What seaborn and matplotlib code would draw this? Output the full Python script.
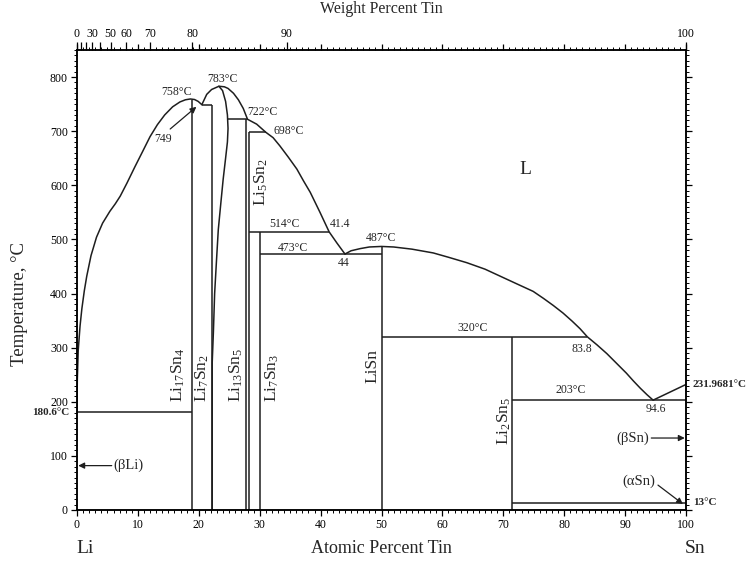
import numpy as np
import pandas as pd
import matplotlib.pyplot as plt
import seaborn as sns

sns.set_style('ticks')
plt.rcParams['font.family'] = ['Liberation Serif', 'DejaVu Serif']
plt.rcParams['mathtext.fontset'] = 'custom'
plt.rcParams['mathtext.rm'] = 'Liberation Serif'
plt.rcParams['mathtext.it'] = 'Liberation Serif:italic'

# liquidus, Li side up to the Li17Sn4 / Li7Sn2 eutectic (749 C)
liq_li_at = [0, 0.05, 0.2, 0.5, 0.8, 1.2, 1.6, 2.3, 3.2, 4.2, 5.4, 6.3, 7.1, 8.2,
             9.5, 10.8, 12.0, 13.2, 14.4, 15.7, 16.9, 17.8, 18.6, 19.3, 19.9, 20.5]
liq_li_T = [180.6, 240, 295, 340, 372, 405, 432, 470, 504, 530, 552, 566, 580, 604,
            634, 663, 690, 712, 730, 745, 754, 758, 759.5, 758.5, 755, 749]

# liquidus over Li7Sn2 down to the 473 C eutectic
liq_mid_at = [20.5, 21.3, 22.1, 23.3, 24.2, 24.8, 25.7, 26.5, 27.3, 28.0, 29.5, 31.0,
              32.2, 33.3, 34.7, 36.1, 37.2, 38.3, 39.9, 41.4, 42.7, 44.0]
liq_mid_T = [749, 768, 777, 783, 782, 779, 770, 758, 742, 722, 713, 698,
             688, 673, 652, 630, 608, 587, 550, 514, 493, 473]

# liquidus over LiSn down to the Sn-rich eutectic, then to pure Sn
liq_sn_at = [44.0, 45.0, 46.5, 48.0, 50.0, 52.0, 55.0, 58.5, 61.0, 64.0, 67.0, 69.5,
             72.0, 74.9, 76.6, 78.2, 79.8, 81.3, 82.6, 83.8, 85.4, 87.0, 88.6, 90.2,
             91.4, 92.5, 93.6, 94.6, 100]
liq_sn_T = [473, 479, 483, 486, 487, 486, 482, 475, 467, 457, 445, 432,
            419, 404, 391, 378, 364, 349, 335, 320, 305, 289, 271, 253,
            238, 225, 213, 203, 231.9681]

# Sn-rich boundary of Li7Sn2
li7sn2_at = [23.3, 23.9, 24.4, 24.7, 24.8, 24.7, 24.4, 24.0, 23.6, 23.2, 22.9, 22.6,
             22.4, 22.2, 22.2]
li7sn2_T = [783, 775, 755, 730, 705, 680, 650, 611, 565, 518, 460, 400,
            330, 272, 0]

# isotherms
iso_T = [180.6, 749, 722, 698, 514, 473, 320, 203, 13]
iso_from = [0, 20.5, 24.7, 28.2, 28.2, 30.0, 50.0, 71.4, 71.4]
iso_to = [18.9, 22.2, 28.0, 31.0, 41.4, 50.0, 83.8, 100, 100]

# compounds
comp_at = [18.9, 22.2, 27.8, 28.2, 30.0, 50.0, 71.4]
comp_top = [758, 749, 722, 698, 514, 487, 320]

wt_ticks = [0, 10, 20, 30, 40, 50, 60, 70, 80, 90, 100]
wt_labels = ['0', '', '', '30', '', '50', '60', '70', '80', '90', '100']


def wt_to_at(w):
    w = np.asarray(w, float)
    a = w / 118.71
    b = (100 - w) / 6.941
    return 100 * a / (a + b)


curves = pd.concat([
    pd.DataFrame({'at': liq_li_at, 'T': liq_li_T, 'seg': 'li'}),
    pd.DataFrame({'at': liq_mid_at, 'T': liq_mid_T, 'seg': 'mid'}),
    pd.DataFrame({'at': liq_sn_at, 'T': liq_sn_T, 'seg': 'sn'}),
    pd.DataFrame({'at': li7sn2_at, 'T': li7sn2_T, 'seg': 'li7sn2'}),
], ignore_index=True)

lc = '#1e1e1e'
fig = plt.figure(figsize=(7.55, 5.67), dpi=100)
ax = fig.add_axes([77 / 755, 57 / 567, 609 / 755, 460 / 567])

sns.lineplot(data=curves, x='at', y='T', units='seg', estimator=None, sort=False,
             color=lc, lw=1.1, ax=ax)
ax.hlines(iso_T, iso_from, iso_to, color=lc, lw=1.1)
ax.vlines(comp_at, 0, comp_top, color=lc, lw=1.1)

ax.set_xlim(0, 100)
ax.set_ylim(0, 850)
ax.set_xlabel('')
ax.set_ylabel('')
ax.set_xticks(range(0, 101, 10))
ax.set_xticks(np.arange(0, 101, 1), minor=True)
ax.set_yticks(range(0, 801, 100))
ax.set_yticks(np.arange(0, 851, 10), minor=True)

ax2 = ax.twiny()
ax2.set_xlim(0, 100)
ax2.set_xticks(wt_to_at(wt_ticks))
ax2.set_xticklabels(wt_labels)
ax2.xaxis.set_minor_locator(plt.NullLocator())
ax2.tick_params(axis='x', length=6, width=0.9, direction='out', pad=1.5,
                labelsize=8.5, colors='k')

ax.tick_params(which='major', length=4.5, width=0.9, direction='out', top=True,
               right=True, labeltop=False, labelright=False, labelsize=8.5,
               pad=2, colors='k')
ax.tick_params(which='minor', length=2.2, width=0.7, direction='out', top=True,
               right=True, colors='k')
for a in (ax, ax2):
    for s in a.spines.values():
        s.set_linewidth(1.1)
        s.set_color('k')

# point labels
fs = 8.5
pts = [('758°C', 16.3, 772, 'center'), ('749', 14.1, 685, 'center'),
       ('783°C', 23.9, 797, 'center'), ('722°C', 27.9, 735, 'left'),
       ('698°C', 32.2, 700, 'left'), ('514°C', 34.0, 529, 'center'),
       ('41.4', 41.5, 529, 'left'), ('473°C', 35.5, 485, 'center'),
       ('44', 43.8, 457, 'center'), ('487°C', 50.0, 503, 'center'),
       ('320°C', 65.0, 337, 'center'), ('83.8', 82.9, 298, 'center'),
       ('203°C', 81.0, 222, 'center'), ('94.6', 95.0, 187, 'center')]
for txt, x, y, ha in pts:
    ax.text(x, y, txt, fontsize=fs, ha=ha, va='center')

# compound labels
comps = [(r'$\mathrm{Li_{17}Sn_4}$', 16.6, 200, 'bottom'),
         (r'$\mathrm{Li_7Sn_2}$', 20.5, 200, 'bottom'),
         (r'$\mathrm{Li_{13}Sn_5}$', 26.1, 200, 'bottom'),
         (r'$\mathrm{Li_7Sn_3}$', 32.1, 200, 'bottom'),
         (r'$\mathrm{Li_5Sn_2}$', 30.3, 606, 'center'),
         ('LiSn', 48.5, 266, 'center'),
         (r'$\mathrm{Li_2Sn_5}$', 70.1, 165, 'center')]
for txt, x, y, va in comps:
    ax.text(x, y, txt, fontsize=12.5, rotation=90, ha='center', va=va)

ax.text(73.6, 630, 'L', fontsize=14, ha='center', va='center')

# phase arrows
ak = dict(arrowstyle='-|>', color=lc, lw=0.9, mutation_scale=9, shrinkA=0, shrinkB=0)
ax.annotate('', xy=(19.6, 745), xytext=(15.3, 704), arrowprops=ak)
ax.annotate('', xy=(0.2, 82), xytext=(5.7, 82), arrowprops=ak)
ax.text(6.0, 82, '(βLi)', fontsize=10.5, ha='left', va='center')
ax.annotate('', xy=(99.8, 133), xytext=(94.3, 133), arrowprops=ak)
ax.text(94.0, 133, '(βSn)', fontsize=10.5, ha='right', va='center')
ax.annotate('', xy=(99.5, 11), xytext=(95.4, 46), arrowprops=ak)
ax.text(92.3, 54, '(αSn)', fontsize=10.5, ha='center', va='center')

# bold temperatures outside the frame
ax.text(-1.2, 180.6, '180.6°C', fontsize=8, fontweight='bold', ha='right',
        va='center', clip_on=False)
ax.text(101.1, 231.97, '231.9681°C', fontsize=8, fontweight='bold', ha='left',
        va='center', clip_on=False)
ax.text(101.1, 13, '13°C', fontsize=8, fontweight='bold', ha='left',
        va='center', clip_on=False)

# axis titles
ax.text(50, -71, 'Atomic Percent Tin', fontsize=13, ha='center', va='center',
        clip_on=False)
ax.text(1.3, -71, 'Li', fontsize=14, ha='center', va='center', clip_on=False)
ax.text(101.5, -71, 'Sn', fontsize=14, ha='center', va='center', clip_on=False)
ax.text(50, 925, 'Weight Percent Tin', fontsize=11.5, ha='center', va='center',
        clip_on=False)
ax.text(-9.4, 380, 'Temperature, °C', fontsize=13.5, rotation=90, ha='center',
        va='center', clip_on=False)

fig.savefig('out.png', dpi=100)
